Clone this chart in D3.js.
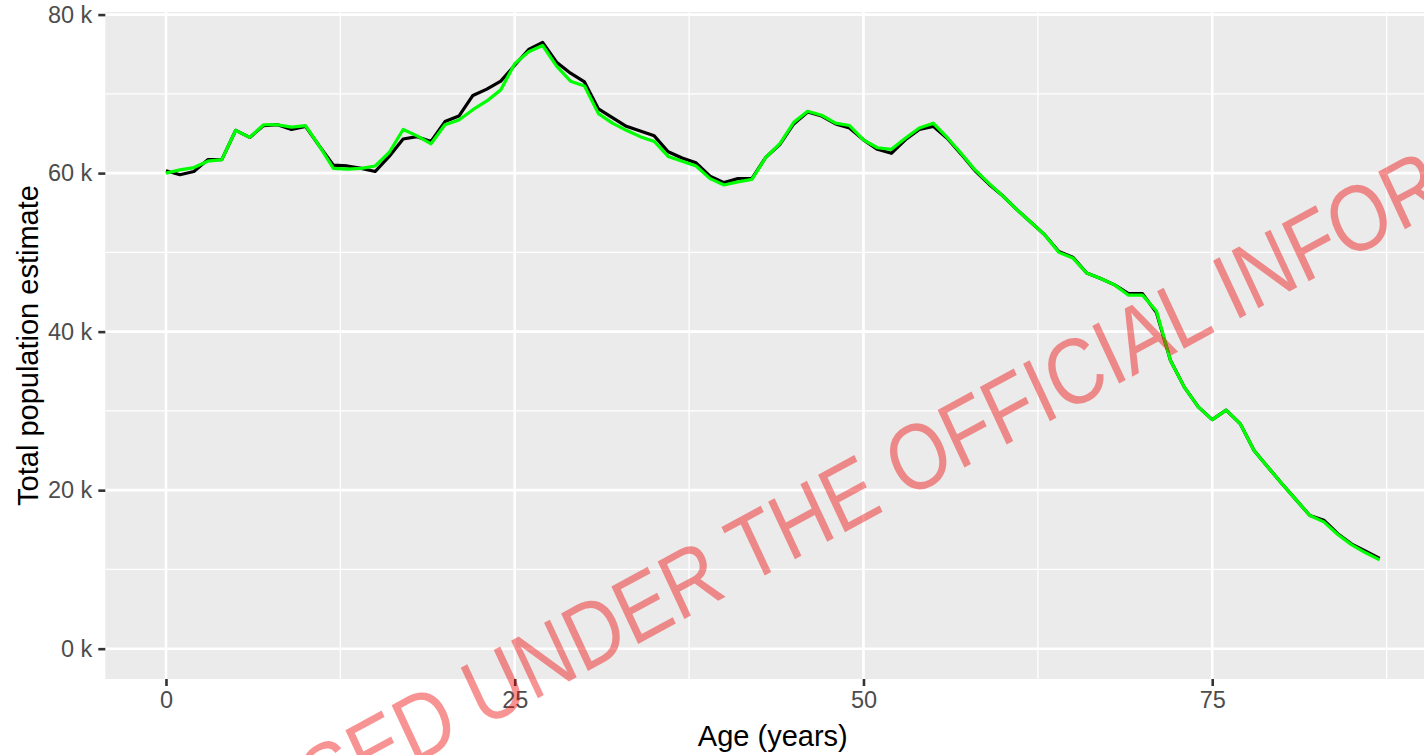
<!DOCTYPE html>
<html>
<head>
<meta charset="utf-8">
<script src="https://cdn.jsdelivr.net/npm/d3@7"></script>
<style>
  body { margin: 0; background: #fff; overflow: hidden; }
  text { font-family: "Liberation Sans", Arial, sans-serif; }
</style>
</head>
<body>
<svg id="chart"></svg>
<script>
// single year of age
const ages = d3.range(0, 88);

// black series
const popBlack = [
  60300, 59800, 60200, 61700, 61700, 65400, 64500, 66000, 66100, 65500,
  65900, 63400, 61000, 60900, 60600, 60200, 62100, 64300, 64600, 64000,
  66500, 67200, 69800, 70600, 71600, 73600, 75600, 76500, 74000, 72600,
  71500, 68100, 67000, 65900, 65300, 64700, 62700, 61900, 61300, 59600,
  58800, 59300, 59300, 62000, 63600, 66200, 67700, 67200, 66200, 65700,
  64200, 63000, 62500, 64200, 65500, 65900, 64400, 62400, 60300, 58600,
  57100, 55400, 53800, 52200, 50100, 49400, 47400, 46700, 45900, 44800,
  44800, 42400, 36400, 33000, 30500, 28900, 30100, 28400, 25000, 22900,
  20800, 18800, 16800, 16200, 14500, 13200, 12300, 11400
];

// green series
const popGreen = [
  60000, 60400, 60700, 61500, 61700, 65400, 64500, 66100, 66100, 65800,
  66000, 63400, 60600, 60500, 60600, 60900, 62600, 65500, 64700, 63700,
  66100, 66700, 68000, 69100, 70500, 73800, 75300, 76100, 73500, 71600,
  71000, 67500, 66300, 65400, 64600, 64000, 62100, 61500, 60900, 59300,
  58500, 58900, 59200, 62000, 63700, 66400, 67800, 67300, 66300, 66000,
  64200, 63200, 63000, 64400, 65700, 66300, 64500, 62500, 60400, 58700,
  57100, 55400, 53800, 52200, 50000, 49300, 47400, 46700, 45900, 44600,
  44600, 42600, 36400, 33000, 30500, 28900, 30100, 28400, 25000, 22900,
  20800, 18800, 16800, 16000, 14400, 13100, 12100, 11200
];

const xBreaks = [0, 25, 50, 75];
const xMinorBreaks = [12.5, 37.5, 62.5, 87.5];
const yBreaks = [0, 20000, 40000, 60000, 80000];
const yMinorBreaks = [10000, 30000, 50000, 70000];
const watermark = "RELEASED UNDER THE OFFICIAL INFORMATION ACT";

const width = 1424, height = 755;
const panel = {left: 105.3, top: 12, bottom: 679, right: 1440.3};

const svg = d3.select("#chart")
    .attr("width", width)
    .attr("height", height);

// ggplot style 5% expansion, y limits include 0
const xExt = d3.extent(ages);
const xPad = (xExt[1] - xExt[0]) * 0.05;
const x = d3.scaleLinear()
    .domain([xExt[0] - xPad, xExt[1] + xPad])
    .range([panel.left, panel.right]);

const yMax = d3.max(popBlack.concat(popGreen));
const yPad = yMax * 0.05;
const y = d3.scaleLinear()
    .domain([-yPad, yMax + yPad])
    .range([panel.bottom, panel.top]);

svg.append("rect")
    .attr("x", panel.left)
    .attr("y", panel.top)
    .attr("width", panel.right - panel.left)
    .attr("height", panel.bottom - panel.top)
    .attr("fill", "#EBEBEB");

const grid = svg.append("g");
grid.selectAll(".ymin").data(yMinorBreaks).enter().append("line")
    .attr("x1", panel.left).attr("x2", panel.right)
    .attr("y1", d => y(d)).attr("y2", d => y(d))
    .attr("stroke", "#fff").attr("stroke-width", 1.3);
grid.selectAll(".xmin").data(xMinorBreaks).enter().append("line")
    .attr("y1", panel.top).attr("y2", panel.bottom)
    .attr("x1", d => x(d)).attr("x2", d => x(d))
    .attr("stroke", "#fff").attr("stroke-width", 1.3);
grid.selectAll(".ymaj").data(yBreaks).enter().append("line")
    .attr("x1", panel.left).attr("x2", panel.right)
    .attr("y1", d => y(d)).attr("y2", d => y(d))
    .attr("stroke", "#fff").attr("stroke-width", 2.6);
grid.selectAll(".xmaj").data(xBreaks).enter().append("line")
    .attr("y1", panel.top).attr("y2", panel.bottom)
    .attr("x1", d => x(d)).attr("x2", d => x(d))
    .attr("stroke", "#fff").attr("stroke-width", 2.6);

const line = d3.line()
    .x((d, i) => x(ages[i]))
    .y(d => y(d));

svg.append("path")
    .datum(popBlack)
    .attr("d", line)
    .attr("fill", "none")
    .attr("stroke", "#000")
    .attr("stroke-width", 3.2)
    .attr("stroke-linejoin", "round");

svg.append("path")
    .datum(popGreen)
    .attr("d", line)
    .attr("fill", "none")
    .attr("stroke", "#00FF00")
    .attr("stroke-width", 3.2)
    .attr("stroke-linejoin", "round");

// axes
const yAxis = d3.axisLeft(y)
    .tickValues(yBreaks)
    .tickSize(7)
    .tickPadding(6)
    .tickFormat(d => (d / 1000) + " k");
const gy = svg.append("g")
    .attr("transform", `translate(${panel.left},0)`)
    .call(yAxis);

const xAxis = d3.axisBottom(x)
    .tickValues(xBreaks)
    .tickSize(7)
    .tickPadding(5);
const gx = svg.append("g")
    .attr("transform", `translate(0,${panel.bottom})`)
    .call(xAxis);

[gx, gy].forEach(g => {
  g.select(".domain").remove();
  g.selectAll(".tick line").attr("stroke", "#333").attr("stroke-width", 2.6);
  g.selectAll(".tick text")
      .attr("fill", "#4D4D4D")
      .style("font-size", "23.5px")
      .style("font-family", "'Liberation Sans', Arial, sans-serif");
});

svg.append("text")
    .attr("x", (panel.left + panel.right) / 2)
    .attr("y", 746)
    .attr("text-anchor", "middle")
    .style("font-size", "29px")
    .text("Age (years)");

svg.append("text")
    .attr("transform", `translate(38,${(panel.top + panel.bottom) / 2}) rotate(-90)`)
    .attr("text-anchor", "middle")
    .style("font-size", "29px")
    .text("Total population estimate");

// watermark stamp laid over the plot; the scan squashes it, so a plain
// affine matrix: baseline runs up-right, strokes lean to about 65 degrees
const fs = 95;
svg.append("g")
    .attr("transform", "matrix(0.73,-0.395,0.41,0.88,906,499)")
  .append("text")
    .attr("x", -11.724 * fs)
    .attr("y", 0)
    .style("font-size", fs + "px")
    .attr("fill", "rgb(240,10,10)")
    .attr("fill-opacity", 0.44)
    .text(watermark);
</script>
</body>
</html>
